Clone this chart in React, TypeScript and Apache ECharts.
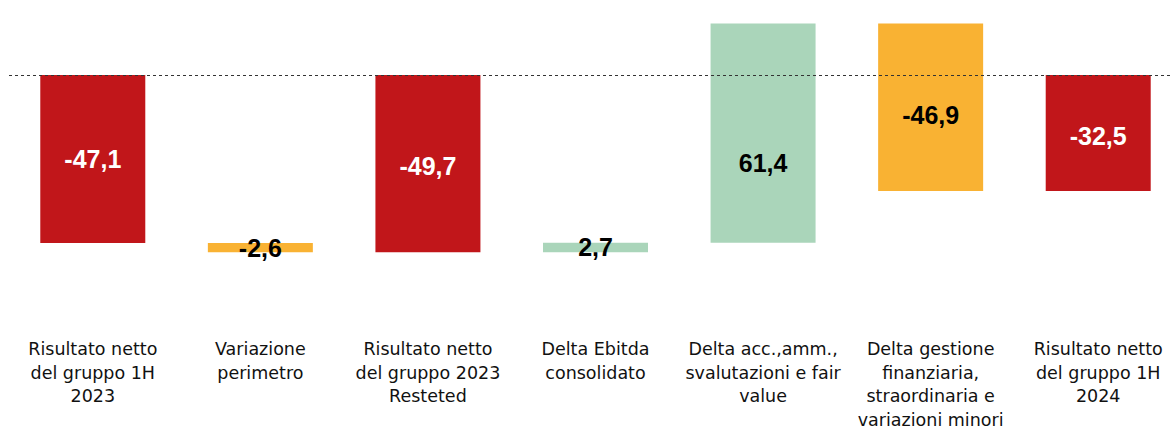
import React, { useEffect, useRef } from "react";
import * as echarts from "echarts";

const categories = [
  "Risultato netto\ndel gruppo 1H\n2023",
  "Variazione\nperimetro",
  "Risultato netto\ndel gruppo 2023\nResteted",
  "Delta Ebitda\nconsolidato",
  "Delta acc.,amm.,\nsvalutazioni e fair\nvalue",
  "Delta gestione\nfinanziaria,\nstraordinaria e\nvariazioni minori",
  "Risultato netto\ndel gruppo 1H\n2024",
];
const values = [-47.1, -2.6, -49.7, 2.7, 61.4, -46.9, -32.5];
const isTotal = [true, false, true, false, false, false, true];

const RED = "#C1161A";
const ORANGE = "#F9B233";
const GREEN = "#AAD5BA";
const labelOffsetY = [0, 0, 2, 0, 30, 8, 3];

export default function App() {
  const ref = useRef<HTMLDivElement>(null);
  useEffect(() => {
    if (!ref.current) return;
    const chart = echarts.init(ref.current, undefined, { renderer: "svg" });

    const bases: number[] = [];
    const heights: number[] = [];
    let running = 0;
    values.forEach((v, i) => {
      if (isTotal[i]) {
        running = v;
        bases.push(Math.min(0, v));
        heights.push(Math.abs(v));
      } else {
        const start = running;
        const end = running + v;
        running = end;
        bases.push(Math.min(start, end));
        heights.push(Math.abs(v));
      }
    });

    const colorFor = (i: number) =>
      isTotal[i] ? RED : values[i] < 0 ? ORANGE : GREEN;

    chart.setOption({
      animation: false,
      grid: {
        left: 9,
        width: 1173,
        top: 3.64,
        height: 321.1,
        containLabel: false,
        outerBoundsMode: "none",
      },
      xAxis: {
        type: "category",
        data: categories,
        axisLine: { show: false },
        axisTick: { show: false },
        axisLabel: {
          interval: 0,
          margin: 13,
          fontFamily: "DejaVu Sans",
          fontSize: 17.5,
          lineHeight: 23.5,
          color: "#111",
        },
      },
      yAxis: {
        type: "value",
        min: -70,
        max: 20,
        show: false,
        splitLine: { show: false },
      },
      series: [
        {
          type: "bar",
          stack: "w",
          stackStrategy: "all",
          data: bases,
          barWidth: 105,
          itemStyle: { color: "transparent" },
          silent: true,
          markLine: {
            silent: true,
            symbol: "none",
            label: { show: false },
            lineStyle: { type: [3, 3], color: "#333", width: 1.2 },
            data: [{ yAxis: 0 }],
          },
        },
        {
          type: "bar",
          stack: "w",
          stackStrategy: "all",
          barWidth: 105,
          data: heights.map((h, i) => ({
            value: h,
            itemStyle: { color: colorFor(i) },
            label: {
              show: true,
              position: "inside",
              offset: [0, labelOffsetY[i]],
              formatter: values[i].toFixed(1).replace(".", ","),
              color: isTotal[i] ? "#fff" : "#000",
              fontFamily: "Liberation Sans",
              fontWeight: "bold",
              fontSize: 25,
            },
          })),
        },
      ],
    });
    return () => chart.dispose();
  }, []);
  return (
    <div
      ref={ref}
      style={{ position: "absolute", left: 0, top: 0, width: 1170, height: 433 }}
    />
  );
}
